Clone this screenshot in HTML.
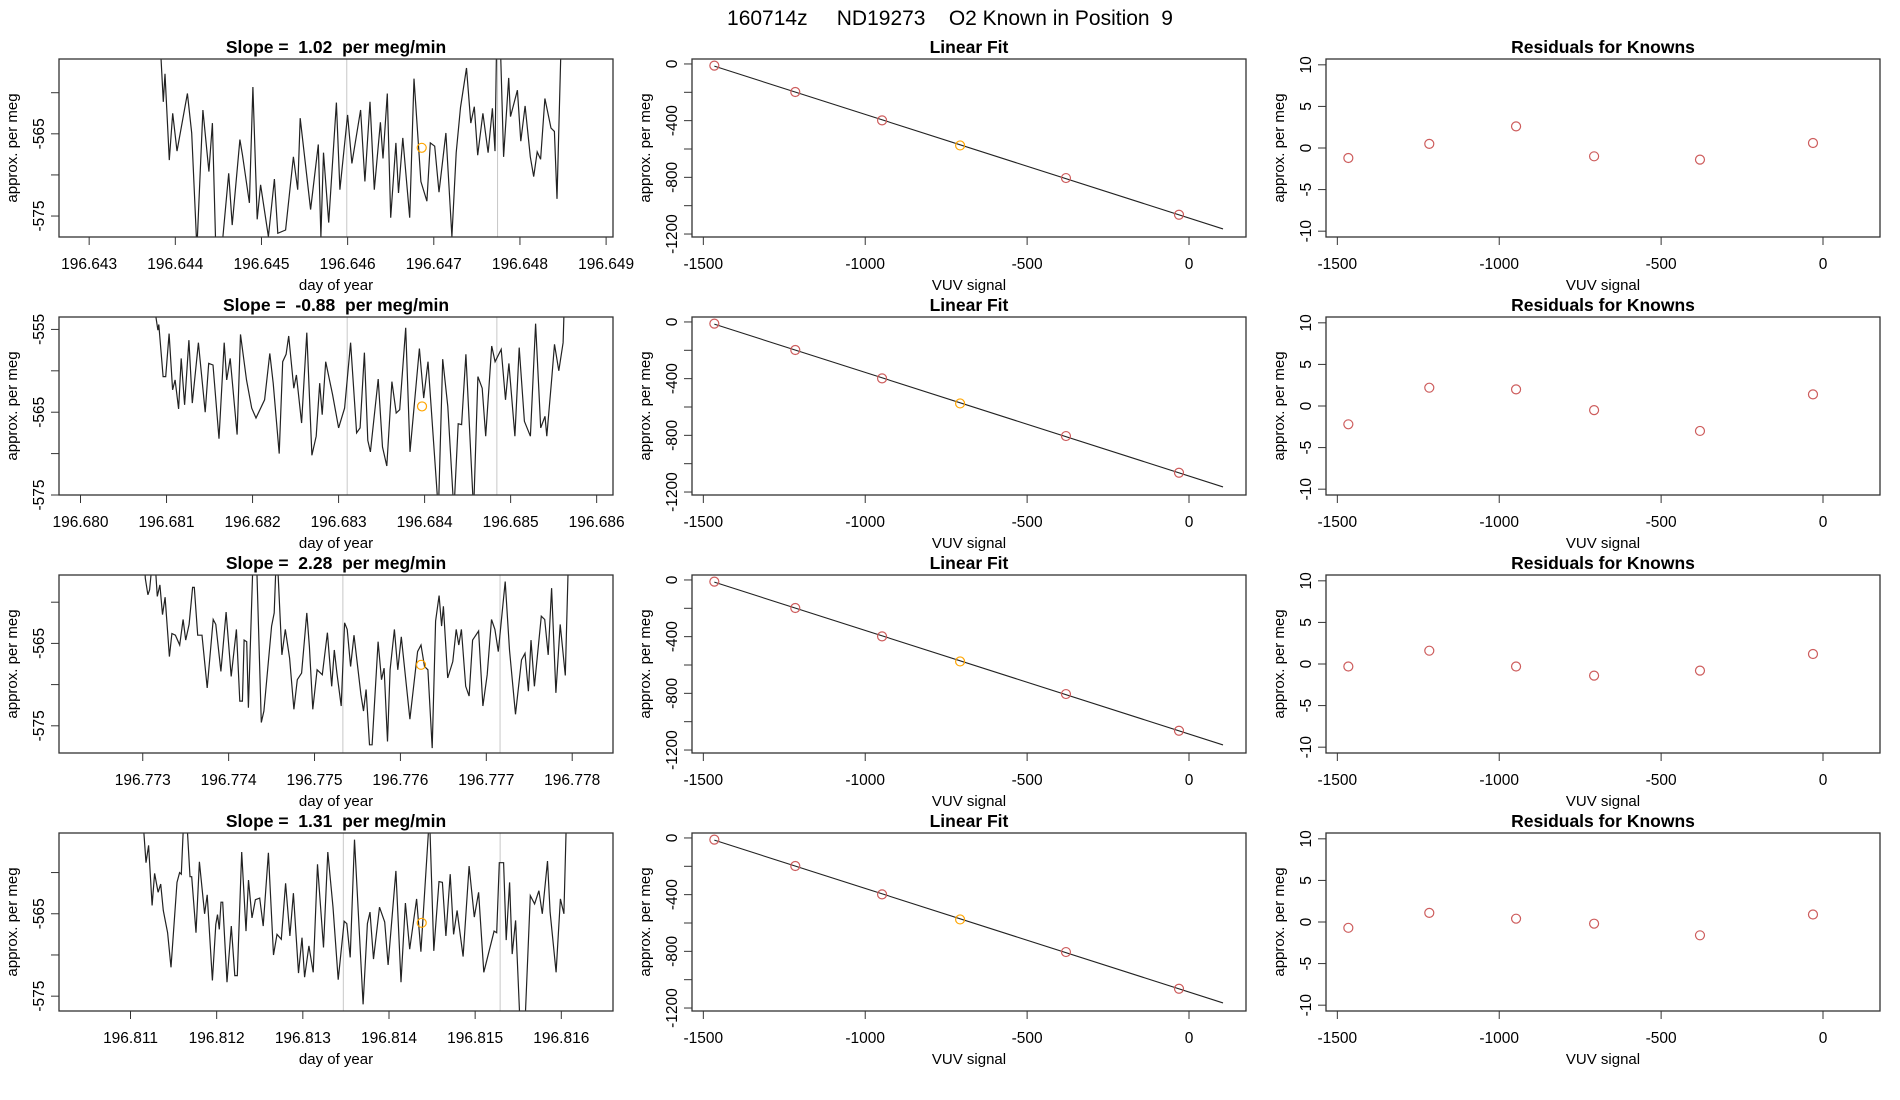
<!DOCTYPE html>
<html><head><meta charset="utf-8"><style>
body{margin:0;background:#fff;}
svg{display:block;font-family:"Liberation Sans",sans-serif;}
svg text{white-space:pre;}
</style></head><body>
<svg id="chart" width="1900" height="1100" viewBox="0 0 1900 1100" xmlns="http://www.w3.org/2000/svg" xml:space="preserve">
<rect width="1900" height="1100" fill="#fff"/>
<text x="950" y="25" text-anchor="middle" font-size="21">160714z     ND19273    O2 Known in Position  9</text>
</svg>
<script>
// ---- data ----
const slopeLabels = ["1.02", "-0.88", "2.28", "1.31"];
const row1Times = [196.64382,196.64386,196.64388,196.64393,196.64397,196.64402,196.64414,196.64419,196.64425,196.64432,196.64439,196.64443,196.64447,196.64454,196.64462,196.64466,196.64475,196.64478,196.64486,196.6449,196.64495,196.64499,196.64508,196.64515,196.64519,196.64528,196.64537,196.64542,196.64545,196.64557,196.64566,196.64569,196.64572,196.64578,196.64587,196.64591,196.646,196.64605,196.64615,196.6462,196.64626,196.64631,196.64638,196.64641,196.64646,196.6465,196.64656,196.64659,196.64664,196.64672,196.64677,196.64685,196.64692,196.64696,196.64701,196.64706,196.64714,196.64721,196.64726,196.64731,196.64738,196.64743,196.64747,196.64751,196.64757,196.64763,196.64768,196.64771,196.64773,196.64777,196.64781,196.64787,196.64789,196.64797,196.64801,196.64806,196.64812,196.64816,196.6482,196.64824,196.64829,196.64836,196.6484,196.64843,196.64848];
const row1Values = [-553,-561.1,-557.7,-568.2,-562.5,-567.1,-560.1,-564.9,-579,-562.1,-569.6,-563.7,-579,-579,-569.8,-576.1,-565.7,-567.6,-573.4,-559.3,-575.4,-571.2,-577.5,-570.5,-577.1,-576.7,-567.8,-571.8,-563.1,-574.2,-566.3,-577.5,-567.3,-575.8,-561.2,-571.8,-562.7,-568.6,-562.1,-570.8,-561.1,-571.8,-563.6,-568,-560.1,-575.2,-566.1,-572.2,-565.5,-575.2,-558.3,-570.8,-573.2,-566.1,-566.5,-572.1,-564.9,-577.5,-567.3,-561.8,-557,-563.7,-561.7,-567.6,-562.5,-567.3,-561.9,-567.1,-553,-553,-567.8,-558.2,-562.9,-559.7,-565.9,-561.6,-567.8,-570.2,-567.2,-568.1,-560.7,-564.3,-564.7,-572.9,-553];
const row2Times = [196.68087,196.6809,196.68091,196.68096,196.68099,196.68103,196.68107,196.6811,196.68114,196.68117,196.68121,196.68126,196.6813,196.68137,196.68145,196.68149,196.68154,196.68161,196.68167,196.6817,196.68174,196.68182,196.68186,196.68193,196.68199,196.68204,196.68214,196.6822,196.68224,196.68231,196.68235,196.68239,196.68242,196.68248,196.68251,196.68257,196.68263,196.68269,196.68274,196.68278,196.68281,196.68285,196.68293,196.683,196.68307,196.68314,196.68321,196.68325,196.6833,196.68334,196.68337,196.68346,196.68351,196.68356,196.68362,196.68367,196.68371,196.68378,196.68383,196.68394,196.68399,196.68404,196.68416,196.68421,196.68427,196.68434,196.68439,196.68443,196.68448,196.68457,196.68462,196.68467,196.68471,196.68478,196.68482,196.68489,196.68494,196.68498,196.68505,196.6851,196.68516,196.68523,196.68529,196.68535,196.6854,196.68542,196.68548,196.68551,196.68556,196.68561,196.68562];
const row2Values = [-553,-555.1,-554.4,-560.7,-560.7,-555.5,-562.3,-561.1,-564.6,-558.5,-564.1,-556.3,-563.9,-556.6,-565,-559.1,-559.3,-568.2,-556.6,-561.1,-558.5,-567.7,-555.6,-561.1,-564.5,-565.7,-563.5,-557.9,-561.5,-570,-558.9,-558,-555.8,-562.1,-560.5,-566.3,-555.4,-570.2,-567.9,-561.5,-565.3,-558.9,-562.9,-566.9,-564.5,-556.6,-567.5,-566.9,-557.8,-568.4,-569.8,-561,-569.2,-571.5,-561.3,-565.1,-564.7,-554.8,-569.8,-557.3,-563.3,-558.9,-577,-558.6,-564.3,-577,-566.4,-566.5,-558,-577,-560.7,-562.1,-567.9,-557,-558.9,-557.4,-563.5,-559.1,-567.9,-557.2,-566.1,-567.9,-554.3,-566.9,-565.5,-567.9,-560.7,-556.8,-560,-556.6,-553];
const row3Times = [196.77301,196.77303,196.77306,196.77308,196.77313,196.77317,196.7732,196.77323,196.77326,196.77331,196.77334,196.77338,196.77343,196.77347,196.7735,196.77354,196.77358,196.7736,196.77364,196.77369,196.77375,196.77382,196.77385,196.77391,196.77397,196.77403,196.77409,196.77413,196.77416,196.77418,196.77421,196.77423,196.77429,196.77432,196.77438,196.77441,196.7745,196.77453,196.77456,196.77462,196.77466,196.77471,196.77476,196.7748,196.77485,196.77491,196.77494,196.77498,196.77503,196.77509,196.77515,196.7752,196.77523,196.77526,196.77531,196.77535,196.77538,196.77542,196.77546,196.77554,196.77557,196.7756,196.77564,196.77567,196.77574,196.77578,196.77581,196.77585,196.77588,196.77593,196.77597,196.77601,196.77611,196.7762,196.77624,196.77628,196.77632,196.77637,196.77641,196.77645,196.77648,196.7765,196.77655,196.77661,196.77665,196.77668,196.77671,196.77676,196.7768,196.77684,196.77691,196.77696,196.77701,196.77706,196.7771,196.77714,196.77722,196.77727,196.77734,196.77741,196.77745,196.77749,196.77752,196.77756,196.77764,196.77768,196.77772,196.77776,196.77781,196.77786,196.77792,196.77796];
const row3Values = [-553,-557.1,-559.1,-558.5,-553,-559.3,-557.9,-561.5,-559.4,-566.6,-563.8,-564,-565.2,-562.1,-564.6,-562.7,-558.2,-558.2,-564,-564,-570.4,-562.1,-562.7,-568.4,-561.2,-569,-563.3,-572,-572,-564.6,-564.8,-572.8,-553,-553,-574.6,-573.2,-562.9,-561.3,-553,-566.4,-563.3,-566.8,-573,-569.4,-568.6,-561.3,-565.4,-573,-568.2,-568.8,-563.7,-570.2,-565.8,-568.6,-572.6,-562.5,-563.3,-567.8,-564,-571.2,-573.2,-570.6,-577.3,-577.3,-564.8,-569.4,-568,-576.9,-568.2,-563.3,-568.2,-564.2,-574.2,-566,-565.2,-567.8,-568.2,-577.7,-562.3,-559.2,-562.9,-560.5,-569.2,-567.2,-563.3,-565.2,-563.3,-570.2,-571.4,-564.6,-563.5,-572.6,-568.8,-562.1,-563.3,-566,-557.5,-565.8,-573.6,-567,-566.2,-570.8,-564.6,-570.2,-561.7,-562.1,-566.4,-558.3,-571,-562.7,-568.9,-553];
const row4Times = [196.81114,196.81118,196.81121,196.81125,196.81128,196.81132,196.81135,196.81138,196.81143,196.81147,196.81154,196.81157,196.81159,196.81162,196.81165,196.81169,196.81171,196.81176,196.8118,196.81186,196.81189,196.81195,196.81199,196.81201,196.81203,196.81205,196.81207,196.81212,196.81217,196.81221,196.81224,196.81229,196.81234,196.81237,196.81241,196.81245,196.8125,196.81254,196.8126,196.81266,196.8127,196.81275,196.8128,196.81285,196.81289,196.81295,196.81299,196.81302,196.81307,196.81312,196.81317,196.81324,196.81329,196.81335,196.81341,196.81348,196.81351,196.81355,196.8136,196.8137,196.81375,196.81378,196.81382,196.81389,196.81395,196.81399,196.81408,196.81414,196.81419,196.81424,196.81432,196.81437,196.81447,196.81452,196.81458,196.81462,196.81466,196.81471,196.81475,196.81479,196.81486,196.81493,196.81499,196.81504,196.8151,196.81522,196.81525,196.81528,196.81533,196.81536,196.8154,196.81543,196.81547,196.81552,196.81558,196.81564,196.81569,196.81574,196.81578,196.81584,196.81587,196.81594,196.81599,196.81603,196.81606];
const row4Values = [-553,-558.8,-556.7,-564,-560.1,-562.4,-561.4,-564.6,-567.3,-571.5,-561.2,-560,-560.2,-553,-553,-560.5,-560.5,-567.3,-558.7,-565,-562.7,-573.1,-566.3,-565.1,-566.9,-563.6,-563.6,-573.3,-566.5,-572.5,-572.5,-557.5,-567.1,-560.9,-565.5,-563.3,-563.1,-566.5,-557.6,-570,-567.5,-568.1,-561.3,-567.7,-562.5,-572.2,-567.9,-572.7,-568.9,-572.1,-559,-569.1,-557.5,-564.2,-573,-565.9,-566.2,-570.3,-556,-576,-566.2,-564.8,-570.5,-564.2,-566,-571.2,-559.8,-573.3,-563.7,-569.3,-563.2,-569.6,-553,-569.5,-561.1,-561.2,-567.7,-560.2,-567.5,-564.6,-570.2,-559.2,-565.4,-562.4,-572.1,-567.1,-567.3,-558.8,-558.8,-568.2,-561.2,-569.9,-565.8,-578,-578,-562.8,-563.8,-562.2,-565,-558.6,-564.8,-572.1,-563.2,-565,-553];
const xDomains = [[196.64265,196.64908],[196.67975,196.68619],[196.772025,196.778475],[196.81017,196.8166]];
const yDomains = [[-577.55,-555.9],[-575.0,-553.5],[-578.3,-556.7],[-576.8,-555.2]];
const xTickLabels = [["196.643","196.644","196.645","196.646","196.647","196.648","196.649"],["196.680","196.681","196.682","196.683","196.684","196.685","196.686"],["196.773","196.774","196.775","196.776","196.777","196.778"],["196.811","196.812","196.813","196.814","196.815","196.816"]];
const yTickValues = [[-560,-565,-570,-575],[-555,-560,-565,-570,-575],[-560,-565,-570,-575],[-560,-565,-570,-575]];
const yTickLabels = [["","-565","","-575"],["-555","","-565","","-575"],["","-565","","-575"],["","-565","","-575"]];
const vlineTimes = [[196.64599,196.64774],[196.6831,196.68484],[196.77533,196.77716],[196.81347,196.81529]];
const markerTimes = [196.64686,196.68397,196.77624,196.81438];
const markerValues = [-566.7,-564.3,-567.6,-566.1];
const knownSignal = [-1466,-1216,-948,-707,-380,-31];
const knownPerMeg = [-12,-198,-398,-575,-805,-1064];
const fitRange = [-1466,105];
const residualsRow1 = [-1.2,0.5,2.6,-1.0,-1.4,0.6];
const residualsRow2 = [-2.2,2.2,2.0,-0.5,-3.0,1.4];
const residualsRow3 = [-0.3,1.6,-0.3,-1.4,-0.8,1.2];
const residualsRow4 = [-0.7,1.1,0.4,-0.2,-1.6,0.9];
const vuvTicks = [-1500,-1000,-500,0];
const fitYTicks = [0,-200,-400,-600,-800,-1000,-1200];
const fitYLabels = ["0","","-400","","-800","","-1200"];
const residYTicks = [10,5,0,-5,-10];
const vuvDomain = [-1535,176];
const fitYDomain = [-1221,35];
const residYDomain = [-10.7,10.7];

const timeSeries = [[row1Times,row1Values],[row2Times,row2Values],[row3Times,row3Values],[row4Times,row4Values]];
const residuals = [residualsRow1,residualsRow2,residualsRow3,residualsRow4];

// ---- drawing ----
const NS = "http://www.w3.org/2000/svg";
const svg = document.getElementById("chart");
function mk(tag, attrs, parent){const e=document.createElementNS(NS,tag);for(const k in attrs)e.setAttribute(k,attrs[k]);(parent||svg).appendChild(e);return e;}
const colX = [59,692,1326], boxW = 554, boxH = 178, rowY = [59,317,575,833];
function scale(d0,d1,r0,r1){return v=>r0+(v-d0)*(r1-r0)/(d1-d0);}

function frame(g,x0,y0,title){
  const t=mk("text",{x:x0+boxW/2,y:y0-6,"text-anchor":"middle","font-size":"17.5","font-weight":"bold"},g);
  t.textContent=title;
  
  
}
function box(g,x0,y0){
  const r=mk("rect",{x:x0,y:y0,width:boxW,height:boxH,fill:"none",stroke:"#333","stroke-width":"1.3"},g);
  
  
}
function xAxis(g,x0,y0,vals,labels,sx,title){
  const ax=mk("g",{},g);
  
  
  const yb=y0+boxH;
  mk("line",{x1:sx(vals[0]),x2:sx(vals[vals.length-1]),y1:yb,y2:yb,stroke:"#333"},ax);
  vals.forEach((v,i)=>{
    mk("line",{x1:sx(v),x2:sx(v),y1:yb,y2:yb+8,stroke:"#333"},ax);
    const t=mk("text",{x:sx(v),y:yb+32,"text-anchor":"middle","font-size":"15.5"},ax);
    t.textContent=labels[i];
    
    
  });
  const tt=mk("text",{x:x0+boxW/2,y:yb+53,"text-anchor":"middle","font-size":"15"},ax);
  tt.textContent=title;
  
  
}
function yAxis(g,x0,y0,vals,labels,sy,title){
  const ax=mk("g",{},g);
  
  
  mk("line",{x1:x0,x2:x0,y1:sy(vals[0]),y2:sy(vals[vals.length-1]),stroke:"#333"},ax);
  vals.forEach((v,i)=>{
    const y=sy(v);
    mk("line",{x1:x0-8,x2:x0,y1:y,y2:y,stroke:"#333"},ax);
    if(labels[i]!==""){
      const t=mk("text",{x:x0-15,y:y,"text-anchor":"middle","font-size":"15.5",transform:`rotate(-90 ${x0-15} ${y})`},ax);
      t.textContent=labels[i];
      
      
    }
  });
  const cy=y0+boxH/2, cx=x0-42;
  const tt=mk("text",{x:cx,y:cy,"text-anchor":"middle","font-size":"15",transform:`rotate(-90 ${cx} ${cy})`},ax);
  tt.textContent=title;
  
  
}
const defs=mk("defs",{});
for(let r=0;r<4;r++){
  const cp=mk("clipPath",{id:"clip"+r},defs);
  mk("rect",{x:colX[0],y:rowY[r],width:boxW,height:boxH},cp);
}

// least squares fit
const n=knownSignal.length;
const mx=knownSignal.reduce((a,b)=>a+b,0)/n, my=knownPerMeg.reduce((a,b)=>a+b,0)/n;
let sxy=0,sxx=0;for(let i=0;i<n;i++){sxy+=(knownSignal[i]-mx)*(knownPerMeg[i]-my);sxx+=(knownSignal[i]-mx)**2;}
const fitSlope=sxy/sxx, fitIntercept=my-fitSlope*mx;

for(let r=0;r<4;r++){
  const y0=rowY[r];
  const g1=mk("g",{});
  
  
  const x0=colX[0];
  const sx=scale(xDomains[r][0],xDomains[r][1],x0,x0+boxW);
  const sy=scale(yDomains[r][0],yDomains[r][1],y0+boxH,y0);
  frame(g1,x0,y0,"Slope =  "+slopeLabels[r]+"  per meg/min");
  vlineTimes[r].forEach(t=>{
    const l=mk("line",{x1:sx(t),x2:sx(t),y1:y0,y2:y0+boxH,stroke:"#c8c8c8","stroke-width":"1"},g1);
    
    
  });
  const [tt,vv]=timeSeries[r];
  const pts=tt.map((t,i)=>sx(t).toFixed(1)+","+sy(vv[i]).toFixed(1)).join(" ");
  const pl=mk("polyline",{points:pts,fill:"none",stroke:"#222","stroke-width":"1.2","clip-path":`url(#clip${r})`},g1);
  
  
  const mc=mk("circle",{cx:sx(markerTimes[r]),cy:sy(markerValues[r]),r:4.5,fill:"none",stroke:"#FFA500","stroke-width":"1.2"},g1);
  
  
  const xt=xTickLabels[r].map(s=>parseFloat(s));
  xAxis(g1,x0,y0,xt,xTickLabels[r],sx,"day of year");
  yAxis(g1,x0,y0,yTickValues[r],yTickLabels[r],sy,"approx. per meg");
  box(g1,x0,y0);

  const g2=mk("g",{});
  
  
  const x2=colX[1];
  const sx2=scale(vuvDomain[0],vuvDomain[1],x2,x2+boxW);
  const sy2=scale(fitYDomain[0],fitYDomain[1],y0+boxH,y0);
  frame(g2,x2,y0,"Linear Fit");
  const fl=mk("line",{x1:sx2(fitRange[0]),y1:sy2(fitIntercept+fitSlope*fitRange[0]),x2:sx2(fitRange[1]),y2:sy2(fitIntercept+fitSlope*fitRange[1]),stroke:"#222","stroke-width":"1.1"},g2);
  
  
  knownSignal.forEach((v,i)=>{
    const c=mk("circle",{cx:sx2(v),cy:sy2(knownPerMeg[i]),r:4.5,fill:"none",stroke:i===3?"#FFA500":"#CD5C5C","stroke-width":"1.2"},g2);
    
    
  });
  xAxis(g2,x2,y0,vuvTicks,vuvTicks.map(String),sx2,"VUV signal");
  yAxis(g2,x2,y0,fitYTicks,fitYLabels,sy2,"approx. per meg");
  box(g2,x2,y0);

  const g3=mk("g",{});
  
  
  const x3=colX[2];
  const sx3=scale(vuvDomain[0],vuvDomain[1],x3,x3+boxW);
  const sy3=scale(residYDomain[0],residYDomain[1],y0+boxH,y0);
  frame(g3,x3,y0,"Residuals for Knowns");
  knownSignal.forEach((v,i)=>{
    const c=mk("circle",{cx:sx3(v),cy:sy3(residuals[r][i]),r:4.5,fill:"none",stroke:"#CD5C5C","stroke-width":"1.2"},g3);
    
    
  });
  xAxis(g3,x3,y0,vuvTicks,vuvTicks.map(String),sx3,"VUV signal");
  yAxis(g3,x3,y0,residYTicks,residYTicks.map(String),sy3,"approx. per meg");
  box(g3,x3,y0);
}
</script>
</body></html>
